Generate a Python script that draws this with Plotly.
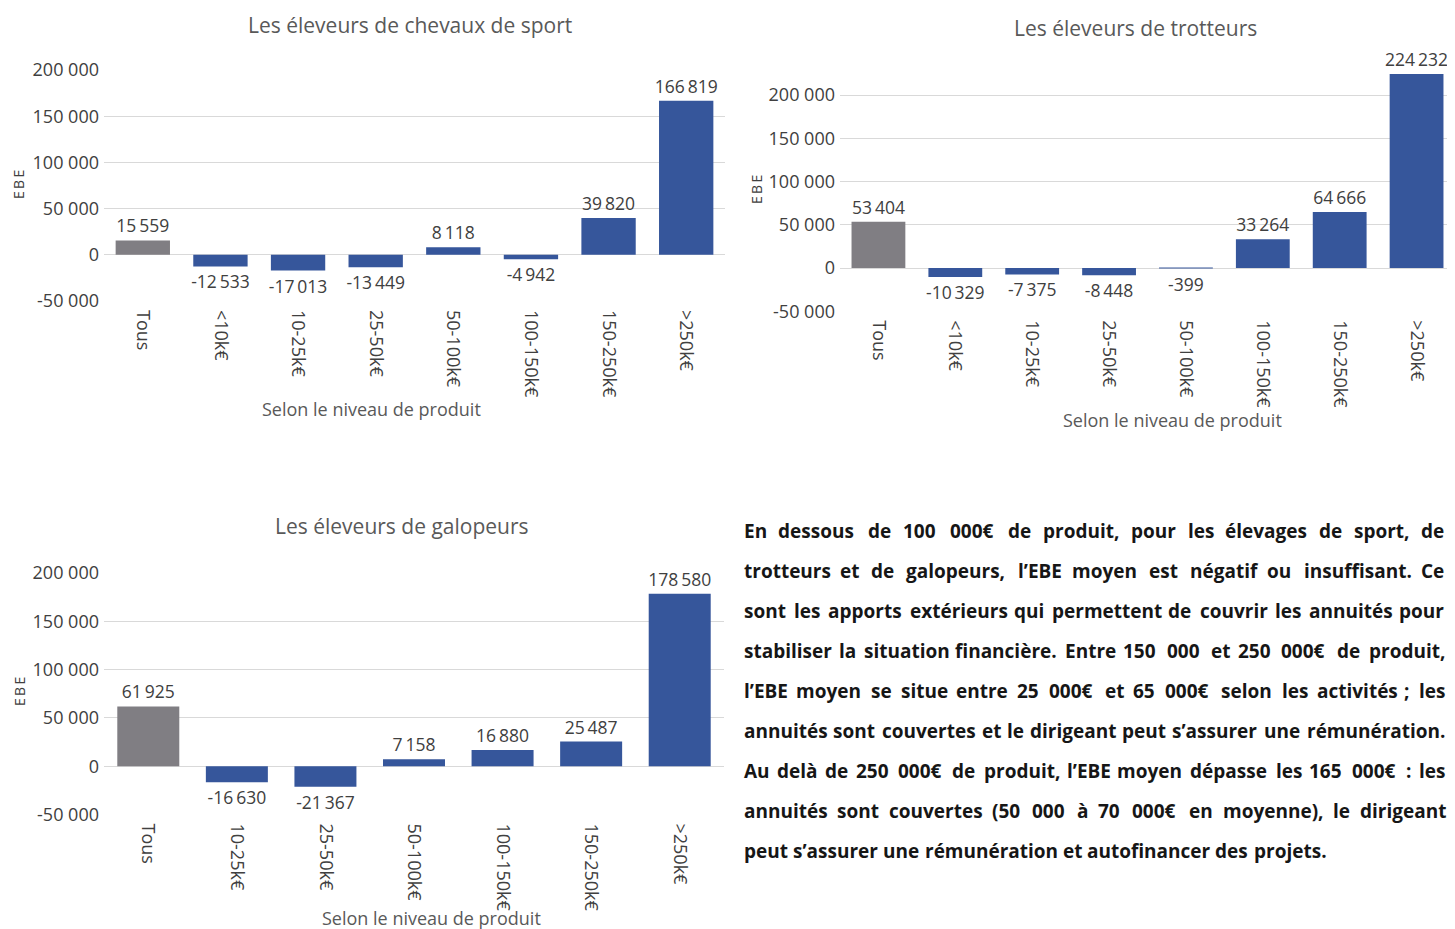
import plotly.graph_objects as go

W, H = 1455, 929
OFF = 8  # default page body margin
FW, FH = W - OFF, H - OFF

categories_sport = ["Tous", "<10k€", "10-25k€", "25-50k€", "50-100k€", "100-150k€", "150-250k€", ">250k€"]
values_sport = [15559, -12533, -17013, -13449, 8118, -4942, 39820, 166819]

categories_trot = ["Tous", "<10k€", "10-25k€", "25-50k€", "50-100k€", "100-150k€", "150-250k€", ">250k€"]
values_trot = [53404, -10329, -7375, -8448, -399, 33264, 64666, 224232]

categories_galop = ["Tous", "10-25k€", "25-50k€", "50-100k€", "100-150k€", "150-250k€", ">250k€"]
values_galop = [61925, -16630, -21367, 7158, 16880, 25487, 178580]

tick_vals = [-50000, 0, 50000, 100000, 150000, 200000]
tick_text = ["-50 000", "0", "50 000", "100 000", "150 000", "200 000"]

titles = ["Les éleveurs de chevaux de sport", "Les éleveurs de trotteurs", "Les éleveurs de galopeurs"]
x_title = "Selon le niveau de produit"
y_title = "E\u2009B\u2009E"

paragraph_lines = [
    "En dessous de 100 000€ de produit, pour les élevages de sport, de",
    "trotteurs et de galopeurs, l’EBE moyen est négatif ou insuffisant. Ce",
    "sont les apports extérieurs qui permettent de couvrir les annuités pour",
    "stabiliser la situation financière. Entre 150 000 et 250 000€ de produit,",
    "l’EBE moyen se situe entre 25 000€ et 65 000€ selon les activités ; les",
    "annuités sont couvertes et le dirigeant peut s’assurer une rémunération.",
    "Au delà de 250 000€ de produit, l’EBE moyen dépasse les 165 000€ : les",
    "annuités sont couvertes (50 000 à 70 000€ en moyenne), le dirigeant",
    "peut s’assurer une rémunération et autofinancer des projets.",
]

BLUE = "#36569B"
GREY = "#807E83"
TXT = "#404040"
FONT = "Open Sans"


def px(x):
    return (x - OFF) / FW


def py(y):
    return 1 - (y - OFF) / FH


def fmt(v):
    s = f"{abs(v):,}".replace(",", "\u2009")
    return ("-" if v < 0 else "") + s


# approximate Open Sans advance widths (em) for justifying the paragraph
CW = {
    "a": .556, "b": .613, "c": .502, "d": .613, "e": .561, "f": .339, "g": .548, "h": .614, "i": .253,
    "j": .253, "k": .525, "l": .253, "m": .930, "n": .614, "o": .604, "p": .613, "q": .613, "r": .408,
    "s": .477, "t": .353, "u": .614, "v": .501, "w": .778, "x": .524, "y": .502, "z": .477,
    "é": .561, "è": .561, "à": .556, "E": .516, "B": .635, "C": .620, "A": .633, "S": .547,
    ",": .243, ".": .266, ";": .266, ":": .266, "(": .290, ")": .290, "’": .173, "€": .572, " ": .26,
}


def word_width(w, size):
    return sum(CW.get(ch, .572) for ch in w) * size * 1.077


PSIZE = 19
LEFT, RIGHT = 742, 1443

panels = [
    dict(cats=categories_sport, vals=values_sport, xd=[104, 725], yd=[301, 70], yr=[-50000, 200000],
         title=(410, 25), xt=(371, 409), yt=(19, 185)),
    dict(cats=categories_trot, vals=values_trot, xd=[840, 1455], yd=[311.3, 72.5], yr=[-50000, 226000],
         title=(1135, 28), xt=(1172, 420), yt=(757, 190)),
    dict(cats=categories_galop, vals=values_galop, xd=[104, 724], yd=[814.5, 573], yr=[-50000, 200000],
         title=(402, 526), xt=(431, 918), yt=(19, 692)),
]

fig = go.Figure()
annotations = []
layout = {}
for i, p in enumerate(panels, start=1):
    xa = "x" if i == 1 else f"x{i}"
    ya = "y" if i == 1 else f"y{i}"
    colors = [GREY] + [BLUE] * (len(p["vals"]) - 1)
    fig.add_trace(go.Bar(
        x=p["cats"], y=p["vals"], xaxis=xa, yaxis=ya,
        marker=dict(color=colors, line=dict(width=0)),
        text=[fmt(v) for v in p["vals"]], textposition="outside", constraintext="none",
        textfont=dict(family=FONT, size=17.5, color=TXT),
        cliponaxis=False, showlegend=False,
    ))
    layout[f"xaxis{'' if i == 1 else i}"] = dict(
        domain=[px(p["xd"][0]), min(1, px(p["xd"][1]))], anchor=ya, automargin=False,
        tickangle=90, tickfont=dict(family=FONT, size=18, color=TXT),
        showgrid=False, showline=False, ticks="", ticklabelstandoff=8,
    )
    layout[f"yaxis{'' if i == 1 else i}"] = dict(
        domain=[py(p["yd"][0]), py(p["yd"][1])], anchor=xa, automargin=False,
        range=p["yr"], tickvals=tick_vals, ticktext=tick_text,
        tickfont=dict(family=FONT, size=18, color=TXT),
        showgrid=True, gridcolor="#D9D9D9", gridwidth=1,
        zeroline=True, zerolinecolor="#D9D9D9", zerolinewidth=1,
        showline=False, ticks="", ticklabelstandoff=4,
    )
    annotations.append(dict(text=titles[i - 1], x=px(p["title"][0]), y=py(p["title"][1]),
                            xref="paper", yref="paper", showarrow=False, xanchor="center", yanchor="middle",
                            font=dict(family=FONT, size=21, color="#595959")))
    annotations.append(dict(text=x_title, x=px(p["xt"][0]), y=py(p["xt"][1]),
                            xref="paper", yref="paper", showarrow=False, xanchor="center", yanchor="middle",
                            font=dict(family=FONT, size=18, color="#595959")))
    annotations.append(dict(text=y_title, x=px(p["yt"][0]), y=py(p["yt"][1]), textangle=-90,
                            xref="paper", yref="paper", showarrow=False, xanchor="center", yanchor="middle",
                            font=dict(family=FONT, size=14, color="#404040")))

# justified paragraph: each word placed along the line
for k, line in enumerate(paragraph_lines):
    words = line.split(" ")
    widths = [word_width(w, PSIZE) for w in words]
    last = k == len(paragraph_lines) - 1
    gap = word_width(" ", PSIZE) if last else (RIGHT - LEFT - sum(widths)) / (len(words) - 1)
    x = LEFT
    for w, wd in zip(words, widths):
        annotations.append(dict(text=w, x=px(x), y=py(531 + 40 * k), xref="paper", yref="paper",
                                showarrow=False, xanchor="left", yanchor="middle",
                                font=dict(family=FONT, size=PSIZE, color="#161616", weight="bold")))
        x += wd + gap

fig.update_layout(
    width=FW, height=FH, margin=dict(l=0, r=0, t=0, b=0, autoexpand=False),
    paper_bgcolor="white", plot_bgcolor="white",
    bargap=0.3, annotations=annotations, **layout,
)

fig.write_html("out.html")
